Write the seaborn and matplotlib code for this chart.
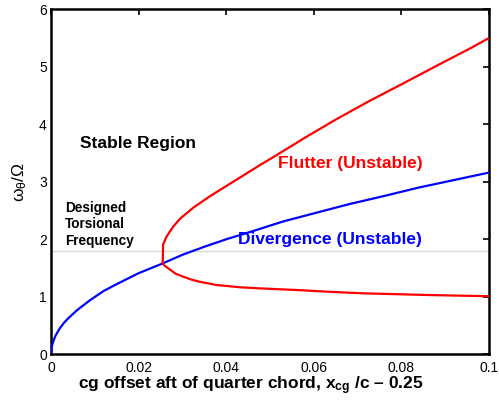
import matplotlib
matplotlib.use("Agg")
import matplotlib.pyplot as plt
import seaborn as sns
import pandas as pd

# ---- data ----
div_x = [0.0, 0.0001, 0.0003, 0.0005, 0.001, 0.002, 0.003, 0.004, 0.006, 0.0089,
         0.012, 0.015, 0.02, 0.0255, 0.03, 0.035, 0.04, 0.046, 0.053, 0.06,
         0.068, 0.0759, 0.084, 0.092, 0.1]
div_y = [0.0, 0.10, 0.17, 0.22, 0.32, 0.45, 0.55, 0.63, 0.77, 0.94,
         1.10, 1.22, 1.41, 1.58, 1.73, 1.87, 2.00, 2.14, 2.31, 2.45,
         2.61, 2.75, 2.90, 3.03, 3.16]

flut_x = [0.1, 0.0957, 0.0881, 0.0804, 0.0728, 0.0652, 0.0576, 0.051, 0.0477,
          0.0439, 0.0401, 0.0363, 0.0325, 0.0295, 0.0279, 0.0264, 0.0256,
          0.0255, 0.0258, 0.0272, 0.0285, 0.0302, 0.032, 0.034, 0.0378,
          0.0432, 0.048, 0.0561, 0.064, 0.0713, 0.079, 0.0865, 0.093, 0.1]
flut_y = [5.50, 5.32, 5.02, 4.71, 4.41, 4.09, 3.75, 3.44, 3.29,
          3.11, 2.93, 2.75, 2.55, 2.36, 2.22, 2.05, 1.91,
          1.59, 1.55, 1.47, 1.40, 1.35, 1.30, 1.26, 1.205,
          1.165, 1.145, 1.118, 1.085, 1.06, 1.045, 1.03, 1.02, 1.01]

design_freq = 1.8

x_ticks = [0, 0.02, 0.04, 0.06, 0.08, 0.1]
x_tick_labels = ["0", "0.02", "0.04", "0.06", "0.08", "0.1"]
y_ticks = [0, 1, 2, 3, 4, 5, 6]

sns.set_style("white")
plt.rcParams["font.family"] = ["Liberation Sans", "DejaVu Sans"]
plt.rcParams["mathtext.fontset"] = "custom"
plt.rcParams["mathtext.rm"] = "Liberation Sans"
plt.rcParams["mathtext.it"] = "Liberation Sans"
plt.rcParams["mathtext.bf"] = "Liberation Sans:bold"
for k in ["text.color", "axes.labelcolor", "xtick.color", "ytick.color"]:
    plt.rcParams[k] = "black"

fig = plt.figure(figsize=(4.99, 4.0), dpi=100)
ax = fig.add_axes([0.1022, 0.1143, 0.8778, 0.8625])

div_df = pd.DataFrame({"x": div_x, "y": div_y})
flut_df = pd.DataFrame({"x": flut_x, "y": flut_y})

ax.axhline(design_freq, color="#d9d9d9", lw=1.0, zorder=1)
sns.lineplot(data=div_df, x="x", y="y", ax=ax, color=(0, 0, 1), lw=1.6,
             sort=False, estimator=None, zorder=3)
sns.lineplot(data=flut_df, x="x", y="y", ax=ax, color=(1, 0, 0), lw=1.6,
             sort=False, estimator=None, zorder=3)

ax.set_xlim(0, 0.1)
ax.set_ylim(0, 6)
ax.set_xticks(x_ticks)
ax.set_xticklabels(x_tick_labels)
ax.set_yticks(y_ticks)
ax.tick_params(direction="in", length=4, width=1.2, labelsize=10,
               top=True, right=True, colors="black")
ax.tick_params(axis="x", pad=5)
ax.tick_params(axis="y", pad=3)
for s in ax.spines.values():
    s.set_visible(True)
    s.set_color("black")
    s.set_linewidth(1.8)

ax.set_xlabel(r"cg offset aft of quarter chord, $\mathbf{x_{cg}}$ /c – 0.25",
              fontsize=12.5, fontweight="bold")
ax.xaxis.set_label_coords(0.4555, -0.058)
ax.set_ylabel("")
ax.text(-0.071, 0.5, r"$\omega_\theta/\Omega$", rotation=90, ha="center",
        va="center", transform=ax.transAxes, fontsize=12.5)

ax.text(0.0066, 3.67, "Stable Region", fontsize=12.5, fontweight="bold",
        ha="left", va="center")
ax.text(0.0518, 3.32, "Flutter (Unstable)", fontsize=12.5, fontweight="bold",
        color=(1, 0, 0), ha="left", va="center")
ax.text(0.0428, 1.99, "Divergence (Unstable)", fontsize=12.5,
        fontweight="bold", color=(0, 0, 1), ha="left", va="center")
ax.text(0.0032, 2.26, "Designed\nTorsional\nFrequency", fontsize=9.8,
        fontweight="bold", ha="left", va="center", linespacing=1.2)

fig.savefig("out.png", dpi=100)
